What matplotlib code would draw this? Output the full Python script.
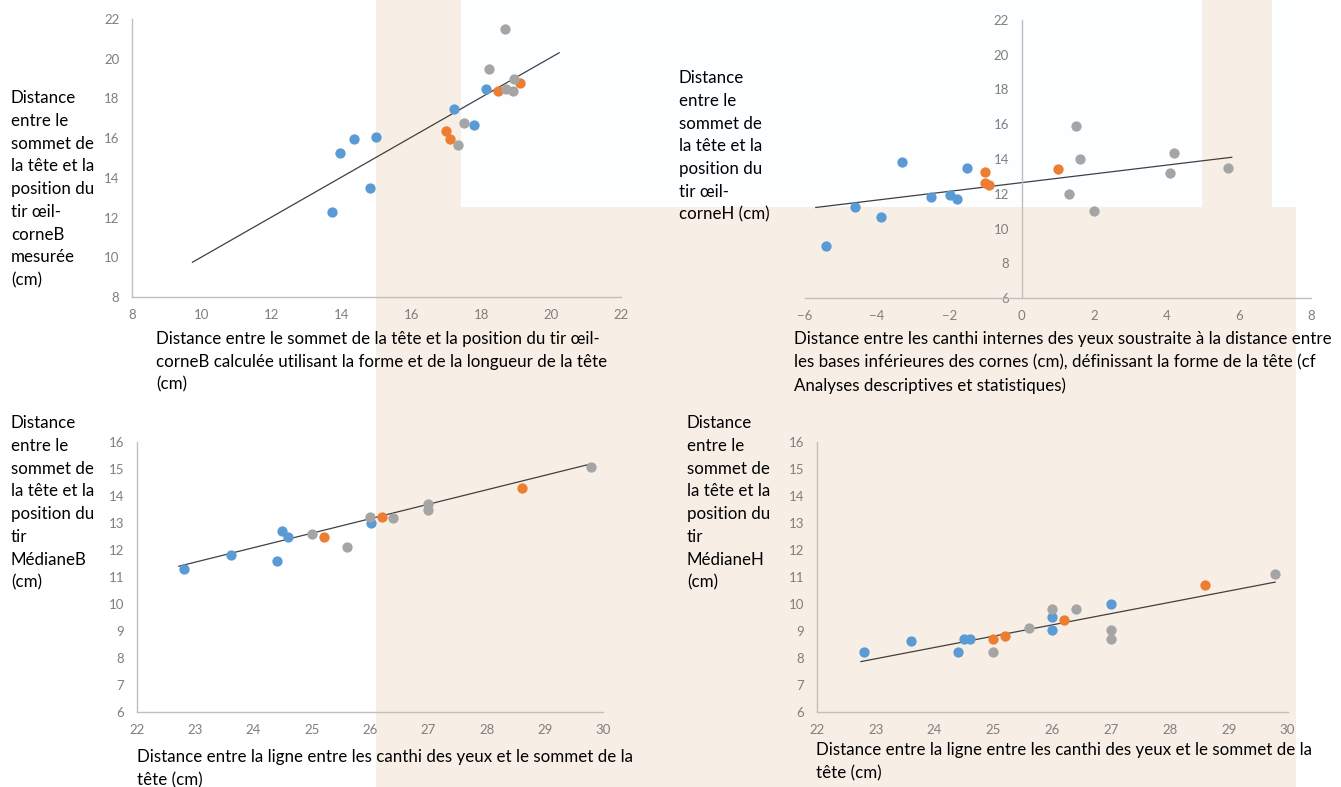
import matplotlib.pyplot as plt
from matplotlib.patches import Rectangle

W, H = 1341, 787

blue = '#5B9BD5'
orange = '#ED7D31'
grey = '#A5A5A5'

# chart 1 : tir oeil-corneB mesuree vs calculee
c1_blue_x = [13.72, 13.96, 14.36, 14.82, 15.0, 17.23, 17.80, 18.13]
c1_blue_y = [12.27, 15.26, 15.97, 13.48, 16.07, 17.48, 16.66, 18.49]
c1_orange_x = [16.98, 17.09, 18.49, 19.11]
c1_orange_y = [16.37, 15.97, 18.37, 18.77]
c1_grey_x = [17.33, 17.50, 18.21, 18.68, 18.72, 18.90, 18.95]
c1_grey_y = [15.66, 16.77, 19.48, 21.48, 18.50, 18.37, 18.97]
c1_trend_x = [9.73, 20.23]
c1_trend_y = [9.75, 20.30]

# chart 2 : tir oeil-corneH vs forme de la tete
c2_blue_x = [-5.40, -4.61, -3.90, -3.31, -2.50, -1.99, -1.80, -1.51]
c2_blue_y = [8.97, 11.21, 10.69, 13.80, 11.80, 11.90, 11.67, 13.51]
c2_orange_x = [-1.00, -1.00, -0.89, 1.00]
c2_orange_y = [13.28, 12.63, 12.48, 13.41]
c2_grey_x = [1.30, 1.49, 1.60, 2.00, 4.10, 4.20, 5.70]
c2_grey_y = [11.98, 15.90, 14.00, 11.00, 13.20, 14.37, 13.49]
c2_trend_x = [-5.69, 5.81]
c2_trend_y = [11.21, 14.10]

# chart 3 : MedianeB
c3_blue_x = [22.81, 23.61, 24.40, 24.49, 24.60, 26.01]
c3_blue_y = [11.31, 11.80, 11.61, 12.71, 12.50, 12.99]
c3_orange_x = [25.21, 26.21, 28.60]
c3_orange_y = [12.49, 13.21, 14.29]
c3_grey_x = [25.01, 25.60, 26.0, 26.40, 27.0, 27.0, 29.79]
c3_grey_y = [12.60, 12.10, 13.21, 13.20, 13.71, 13.50, 15.08]
c3_trend_x = [22.72, 29.79]
c3_trend_y = [11.40, 15.20]

# chart 4 : MedianeH
c4_blue_x = [22.80, 23.60, 24.40, 24.50, 24.60, 26.0, 26.0, 27.0]
c4_blue_y = [8.20, 8.61, 8.20, 8.71, 8.71, 9.50, 9.02, 10.0]
c4_orange_x = [25.0, 25.2, 26.2, 28.6]
c4_orange_y = [8.71, 8.80, 9.40, 10.72]
c4_grey_x = [25.0, 25.6, 26.0, 26.4, 27.0, 27.0, 29.79]
c4_grey_y = [8.20, 9.10, 9.81, 9.81, 9.02, 8.71, 11.10]
c4_trend_x = [22.75, 29.79]
c4_trend_y = [7.86, 10.81]

ylab_oeil_b = "Distance\nentre le\nsommet de\nla tête et la\nposition du\ntir œil-\ncorneB\nmesurée\n(cm)"
xlab_oeil_b = ("Distance entre le sommet de la tête et la position du tir œil-\n"
               "corneB calculée utilisant la forme et de la longueur de la tête\n(cm)")
ylab_oeil_h = "Distance\nentre le\nsommet de\nla tête et la\nposition du\ntir œil-\ncorneH (cm)"
xlab_forme = ("Distance entre les canthi internes des yeux soustraite à la distance entre\n"
              "les bases inférieures des cornes (cm), définissant la forme de la tête (cf\n"
              "Analyses descriptives et statistiques)")
ylab_med_b = "Distance\nentre le\nsommet de\nla tête et la\nposition du\ntir\nMédianeB\n(cm)"
ylab_med_h = "Distance\nentre le\nsommet de\nla tête et la\nposition du\ntir\nMédianeH\n(cm)"
xlab_canthi = "Distance entre la ligne entre les canthi des yeux et le sommet de la\ntête (cm)"

plt.rcParams['font.family'] = ['Lato', 'DejaVu Sans']

fig = plt.figure(figsize=(W / 100, H / 100), dpi=100)

# slide background
bg = fig.add_axes([0, 0, 1, 1], zorder=-10)
bg.set_xlim(0, W)
bg.set_ylim(H, 0)
bg.axis('off')
bg.add_patch(Rectangle((376, 0), 920, H, color='#F7EFE6', lw=0))
bg.add_patch(Rectangle((461, 0), 741, 207, color='#FDFEFF', lw=0))
bg.add_patch(Rectangle((1272, 0), 24, 207, color='#FDFEFF', lw=0))


def px_axes(x0, x1, ytop, ybot):
    return [x0 / W, 1 - ybot / H, (x1 - x0) / W, (ybot - ytop) / H]


def make_chart(rect, bx, by, ox, oy, gx, gy, tx, ty, xlim, ylim, xticks, yticks):
    ax = fig.add_axes(rect)
    ax.patch.set_alpha(0)
    ax.scatter(bx, by, s=55, color=blue, zorder=3, linewidths=0)
    ax.scatter(ox, oy, s=55, color=orange, zorder=3, linewidths=0)
    ax.scatter(gx, gy, s=55, color=grey, zorder=3, linewidths=0)
    ax.plot(tx, ty, color='#404040', lw=0.9, zorder=2)
    ax.set_xlim(*xlim)
    ax.set_ylim(*ylim)
    ax.set_xticks(xticks)
    ax.set_yticks(yticks)
    for s in ['top', 'right']:
        ax.spines[s].set_visible(False)
    for s in ['left', 'bottom']:
        ax.spines[s].set_color('#BFBFBF')
        ax.spines[s].set_linewidth(1)
    ax.tick_params(length=0, labelsize=9.5, labelcolor='#7F7F7F', pad=9)
    return ax


make_chart(px_axes(132, 621, 19, 297), c1_blue_x, c1_blue_y, c1_orange_x, c1_orange_y,
           c1_grey_x, c1_grey_y, c1_trend_x, c1_trend_y,
           (8, 22), (8, 22), range(8, 23, 2), range(8, 23, 2))

ax2 = make_chart(px_axes(804.6, 1311, 20, 298), c2_blue_x, c2_blue_y, c2_orange_x, c2_orange_y,
                 c2_grey_x, c2_grey_y, c2_trend_x, c2_trend_y,
                 (-6, 8), (6, 22), range(-6, 9, 2), range(6, 23, 2))
ax2.spines['left'].set_position(('data', 0))

make_chart(px_axes(136.8, 603.4, 442.3, 711.7), c3_blue_x, c3_blue_y, c3_orange_x, c3_orange_y,
           c3_grey_x, c3_grey_y, c3_trend_x, c3_trend_y,
           (22, 30), (6, 16), range(22, 31), range(6, 17))

make_chart(px_axes(816.8, 1287.5, 442.3, 711.7), c4_blue_x, c4_blue_y, c4_orange_x, c4_orange_y,
           c4_grey_x, c4_grey_y, c4_trend_x, c4_trend_y,
           (22, 30), (6, 16), range(22, 31), range(6, 17))


def label(x, y, txt):
    fig.text(x / W, 1 - y / H, txt, ha='left', va='top', fontsize=12.2,
             color='black', linespacing=1.52)


label(11, 90, ylab_oeil_b)
label(156, 331, xlab_oeil_b)
label(679, 70, ylab_oeil_h)
label(794, 331, xlab_forme)
label(11, 415, ylab_med_b)
label(137, 749, xlab_canthi)
label(687, 415, ylab_med_h)
label(816, 742, xlab_canthi)

fig.savefig('out.png', dpi=100)
